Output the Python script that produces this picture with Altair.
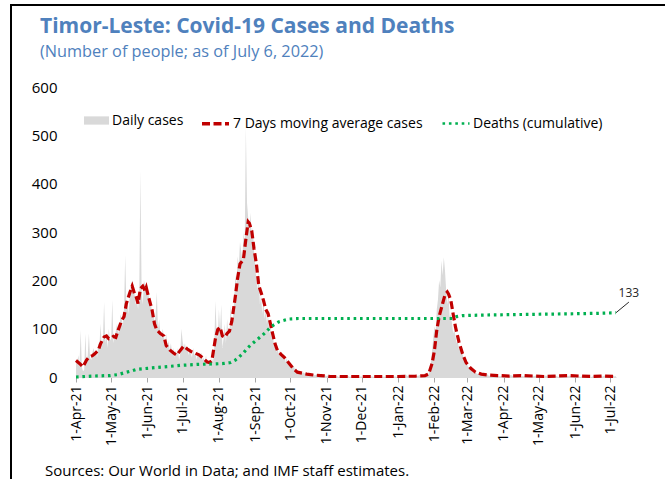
import altair as alt
import pandas as pd

FONT = "Open Sans"
BLUE = "#4F81BD"
GRAY = "#D9D9D9"
RED = "#C00000"
GREEN = "#00B050"

# Daily new cases, one list per month (Apr 2021 - 6 Jul 2022)
cases_2021_04 = [38, 30, 45, 25, 97, 20, 12, 15, 90, 30, 45, 90, 40, 35, 50, 60, 45, 55, 40, 70,
                 65, 110, 60, 80, 155, 70, 90, 60, 100, 75]
cases_2021_05 = [80, 160, 70, 85, 95, 110, 90, 100, 130, 120, 105, 140, 252, 150, 160, 130, 175, 190, 200, 185,
                 170, 150, 160, 140, 175, 427, 180, 150, 200, 190, 175]
cases_2021_06 = [190, 170, 150, 160, 120, 140, 110, 130, 176, 100, 120, 90, 80, 100, 85, 70, 90, 60, 75, 55,
                 70, 50, 60, 40, 55, 45, 60, 35, 50, 100]
cases_2021_07 = [75, 60, 70, 55, 65, 45, 60, 50, 40, 60, 45, 50, 35, 55, 40, 45, 50, 35, 40, 30,
                 45, 25, 35, 30, 20, 40, 30, 60, 158, 95, 80]
cases_2021_08 = [140, 95, 150, 60, 80, 110, 70, 120, 90, 85, 150, 100, 120, 160, 210, 190, 250, 230, 280, 260,
                 240, 300, 270, 517, 360, 330, 300, 340, 290, 310, 260]
cases_2021_09 = [230, 200, 180, 220, 150, 170, 130, 160, 120, 140, 110, 130, 90, 100, 80, 95, 60, 70, 50, 65,
                 45, 55, 40, 50, 35, 45, 30, 40, 25, 30]
cases_2021_10 = [30, 25, 20, 22, 15, 18, 12, 14, 10, 12, 8, 10, 7, 9, 6, 8, 5, 7, 4, 6,
                 5, 3, 5, 4, 3, 4, 2, 3, 4, 2, 3]
cases_2021_11 = [2, 3, 1, 2, 4, 1, 2, 3, 1, 2, 0, 1, 3, 2, 1, 0, 2, 1, 3, 1,
                 0, 2, 1, 2, 0, 1, 2, 1, 0, 1]
cases_2021_12 = [1, 0, 2, 1, 0, 1, 2, 0, 1, 1, 0, 2, 1, 0, 1, 0, 1, 2, 0, 1,
                 0, 1, 0, 1, 2, 0, 1, 0, 1, 1, 0]
cases_2022_01 = [1, 2, 0, 1, 3, 2, 5, 4, 2, 3, 1, 2, 4, 3, 2, 1, 3, 2, 4, 3,
                 2, 1, 3, 2, 4, 3, 6, 15, 30, 55, 80]
cases_2022_02 = [105, 90, 140, 160, 200, 185, 241, 210, 248, 221, 180, 150, 170, 124, 130, 110, 90, 100, 83, 70,
                 75, 55, 60, 45, 50, 35, 40, 28]
cases_2022_03 = [25, 20, 18, 15, 12, 10, 8, 9, 7, 6, 8, 5, 6, 4, 5, 3, 4, 6, 3, 2,
                 4, 3, 2, 3, 1, 2, 3, 2, 1, 2, 3]
cases_2022_04 = [2, 1, 3, 2, 1, 2, 4, 3, 2, 1, 2, 3, 1, 2, 1, 0, 2, 1, 3, 2,
                 1, 2, 1, 0, 1, 2, 1, 3, 2, 1]
cases_2022_05 = [1, 2, 1, 0, 2, 1, 3, 2, 1, 2, 0, 1, 2, 1, 3, 2, 1, 0, 2, 1,
                 2, 1, 0, 1, 2, 1, 3, 2, 1, 0, 1]
cases_2022_06 = [1, 0, 2, 1, 1, 0, 2, 1, 3, 1, 0, 1, 2, 1, 0, 1, 2, 3, 1, 2,
                 1, 0, 2, 1, 1, 3, 2, 1, 2, 1]
cases_2022_07 = [2, 1, 3, 2, 1, 2]

# 7-day moving average of cases
ma_dates = ["2021-04-01", "2021-04-04", "2021-04-07", "2021-04-10", "2021-04-12", "2021-04-15", "2021-04-17",
            "2021-04-20", "2021-04-22", "2021-04-25", "2021-04-27", "2021-04-29", "2021-05-01", "2021-05-03",
            "2021-05-05", "2021-05-07", "2021-05-10", "2021-05-12", "2021-05-14", "2021-05-17", "2021-05-19",
            "2021-05-21", "2021-05-22", "2021-05-24", "2021-05-26", "2021-05-28", "2021-05-30", "2021-05-31",
            "2021-06-02", "2021-06-05", "2021-06-07", "2021-06-09", "2021-06-12", "2021-06-15", "2021-06-17",
            "2021-06-20", "2021-06-23", "2021-06-26", "2021-06-29", "2021-07-02", "2021-07-05", "2021-07-08",
            "2021-07-11", "2021-07-15", "2021-07-18", "2021-07-22", "2021-07-24", "2021-07-26", "2021-07-29",
            "2021-07-31", "2021-08-02", "2021-08-04", "2021-08-06", "2021-08-08", "2021-08-10", "2021-08-12",
            "2021-08-15", "2021-08-17", "2021-08-19", "2021-08-21", "2021-08-22", "2021-08-24", "2021-08-26",
            "2021-08-27", "2021-08-29", "2021-08-31", "2021-09-02", "2021-09-04", "2021-09-06", "2021-09-08",
            "2021-09-10", "2021-09-12", "2021-09-14", "2021-09-16", "2021-09-18", "2021-09-20", "2021-09-23",
            "2021-09-26", "2021-09-30", "2021-10-04", "2021-10-07", "2021-10-11", "2021-10-15", "2021-10-21",
            "2021-10-27", "2021-11-04", "2021-11-17", "2021-12-02", "2021-12-17", "2022-01-01", "2022-01-16",
            "2022-01-24", "2022-01-27", "2022-01-30", "2022-02-01", "2022-02-03", "2022-02-05", "2022-02-08",
            "2022-02-10", "2022-02-12", "2022-02-13", "2022-02-15", "2022-02-17", "2022-02-19", "2022-02-22",
            "2022-02-25", "2022-02-28", "2022-03-04", "2022-03-08", "2022-03-13", "2022-03-19", "2022-03-27",
            "2022-04-06", "2022-04-16", "2022-04-26", "2022-05-06", "2022-05-16", "2022-05-26", "2022-06-05",
            "2022-06-15", "2022-06-25", "2022-07-06"]
ma_values = [34, 28, 21, 35, 41, 44, 48,
             55, 69, 83, 85, 79, 80, 84,
             82, 97, 117, 125, 152, 175, 188,
             172, 169, 152, 183, 188, 178, 185,
             165, 138, 110, 97, 90, 85, 65,
             56, 50, 45, 55, 64, 58, 53,
             50, 46, 40, 31, 30, 34, 79,
             98, 103, 85, 82, 90, 95, 115,
             166, 205, 234, 240, 245, 285, 321,
             318, 303, 265, 234, 190, 175, 159,
             140, 131, 110, 88, 68, 55, 47,
             40, 28, 16, 10, 8, 6, 4,
             3, 1, 1, 1, 1, 1, 2,
             3, 6, 28, 55, 97, 125, 152,
             170, 176, 172, 159, 130, 103, 72,
             48, 30, 18, 10, 6, 4, 3,
             2, 3, 2, 1, 2, 3, 2,
             1, 2, 1]

# Cumulative deaths
death_dates = ["2021-04-01", "2021-04-16", "2021-04-30", "2021-05-07", "2021-05-14", "2021-05-19", "2021-05-23",
               "2021-06-01", "2021-06-10", "2021-06-20", "2021-06-29", "2021-07-13", "2021-07-28", "2021-08-05",
               "2021-08-11", "2021-08-15", "2021-08-18", "2021-08-22", "2021-08-25", "2021-08-29", "2021-09-03",
               "2021-09-07", "2021-09-11", "2021-09-14", "2021-09-17", "2021-09-21", "2021-09-25", "2021-09-30",
               "2021-10-08", "2021-10-21", "2022-02-17", "2022-02-20", "2022-02-25", "2022-03-12", "2022-04-06",
               "2022-05-06", "2022-06-05", "2022-06-25", "2022-07-06"]
death_values = [0, 2, 3, 5, 10, 13, 16,
                18, 20, 22, 24, 26, 27, 28,
                30, 35, 41, 50, 59, 68, 78,
                86, 95, 103, 108, 114, 117, 120,
                121, 121, 121, 125, 127, 128, 129,
                130, 131, 132, 133]

daily_cases = (cases_2021_04 + cases_2021_05 + cases_2021_06 + cases_2021_07 + cases_2021_08 +
               cases_2021_09 + cases_2021_10 + cases_2021_11 + cases_2021_12 + cases_2022_01 +
               cases_2022_02 + cases_2022_03 + cases_2022_04 + cases_2022_05 + cases_2022_06 + cases_2022_07)
case_dates = pd.date_range("2021-04-01", periods=len(daily_cases), freq="D").strftime("%Y-%m-%d")

SER_CASES = "Daily cases"
SER_MA = "7 Days moving average cases"
SER_DEATHS = "Deaths (cumulative)"

cases_df = pd.DataFrame({"date": case_dates, "value": daily_cases, "series": SER_CASES})
lines_df = pd.concat([
    pd.DataFrame({"date": ma_dates, "value": ma_values, "series": SER_MA}),
    pd.DataFrame({"date": death_dates, "value": death_values, "series": SER_DEATHS}),
])

last_death = death_values[-1]
label_df = pd.DataFrame({"date": [death_dates[-1]], "value": [last_death],
                         "date2": ["2022-07-17"], "value2": [155], "label": [str(last_death)]})

x_scale = alt.Scale(type="utc", domain=[alt.DateTime(year=2021, month=4, date=1, utc=True),
                                        alt.DateTime(year=2022, month=7, date=6, utc=True)])
y_scale = alt.Scale(domain=[0, 600], nice=False)

x_enc = alt.X("date:T", scale=x_scale, axis=alt.Axis(
    title=None, format="%-d-%b-%y", labelAngle=-90, labelFont=FONT, labelFontSize=14,
    labelColor="#000000", tickCount={"interval": "month", "step": 1}, tickSize=5,
    tickColor="#A6A6A6", domainColor="#D9D9D9", grid=False, labelPadding=3,
    labelOverlap=False, labelFlush=False, labelBound=False))
y_enc = alt.Y("value:Q", scale=y_scale, axis=alt.Axis(
    title=None, values=[0, 100, 200, 300, 400, 500, 600], domain=False, ticks=False, grid=False,
    labelFont=FONT, labelFontSize=15, labelColor="#000000", labelPadding=19))

area = alt.Chart(cases_df).mark_area(interpolate="linear", opacity=1).encode(
    x=x_enc, y=y_enc,
    fill=alt.Fill("series:N", scale=alt.Scale(domain=[SER_CASES], range=[GRAY]),
                  legend=alt.Legend(title=None, orient="none", legendX=8, legendY=21, padding=0,
                                    symbolType="M-1,-0.33H1V0.33H-1Z", symbolSize=625,
                                    symbolStrokeWidth=0, labelFont=FONT, labelFontSize=14,
                                    labelColor="#000000", labelOffset=3)),
)

line_legend = alt.Legend(title=None, orient="none", direction="horizontal", legendX=124, legendY=21,
                         padding=0, symbolType="stroke", symbolSize=729, symbolStrokeWidth=3,
                         labelFont=FONT, labelFontSize=14, labelColor="#000000", labelOffset=2,
                         columnPadding=14, labelLimit=400)
lines = alt.Chart(lines_df).mark_line(strokeWidth=3.2).encode(
    x="date:T", y="value:Q",
    stroke=alt.Stroke("series:N", scale=alt.Scale(domain=[SER_MA, SER_DEATHS], range=[RED, GREEN]),
                      legend=line_legend),
    strokeDash=alt.StrokeDash("series:N", scale=alt.Scale(domain=[SER_MA, SER_DEATHS],
                                                          range=[[8, 3.5], [2.6, 3.8]]),
                              legend=line_legend),
    strokeWidth=alt.StrokeWidth("series:N", scale=alt.Scale(domain=[SER_MA, SER_DEATHS],
                                                            range=[3.4, 2.6]),
                                legend=None),
)

leader = alt.Chart(label_df).mark_rule(color="#262626", strokeWidth=1).encode(
    x="date:T", y="value:Q", x2="date2:T", y2="value2:Q")
leader_text = alt.Chart(label_df).mark_text(font=FONT, fontSize=12, color="#262626", dy=-9, dx=0).encode(
    x="date2:T", y="value2:Q", text="label:N")

title_df = pd.DataFrame({"t": ["Timor-Leste: Covid-19 Cases and Deaths"]})
subtitle_df = pd.DataFrame({"t": ["(Number of people; as of July 6, 2022)"]})
source_df = pd.DataFrame({"t": ["Sources: Our World in Data; and IMF staff estimates."]})

title = alt.Chart(title_df).mark_text(font=FONT, fontSize=21, fontWeight="bold", color=BLUE,
                                      align="left", baseline="alphabetic").encode(
    text="t:N", x=alt.value(-36), y=alt.value(-54))
subtitle = alt.Chart(subtitle_df).mark_text(font=FONT, fontSize=16.3, color=BLUE,
                                            align="left", baseline="alphabetic").encode(
    text="t:N", x=alt.value(-36), y=alt.value(-30))
source = alt.Chart(source_df).mark_text(font=FONT, fontSize=15, color="#000000",
                                        align="left", baseline="alphabetic").encode(
    text="t:N", x=alt.value(-31), y=alt.value(389))

frame_top = alt.Chart(title_df).mark_rule(color="#000000", strokeWidth=2).encode(
    x=alt.value(-66), x2=alt.value(600), y=alt.value(-82))
frame_left = alt.Chart(title_df).mark_rule(color="#000000", strokeWidth=2).encode(
    x=alt.value(-65), y=alt.value(-83), y2=alt.value(400))

chart = alt.layer(
    area, lines, leader, leader_text, title, subtitle, source, frame_top, frame_left
).resolve_legend(fill="independent").properties(
    width=540, height=290,
    autosize=alt.AutoSizeParams(type="none"),
    padding={"left": 76, "top": 87, "right": 49, "bottom": 102},
).configure_view(stroke=None)

chart.save("out.html", embed_options={"renderer": "svg", "actions": False})
